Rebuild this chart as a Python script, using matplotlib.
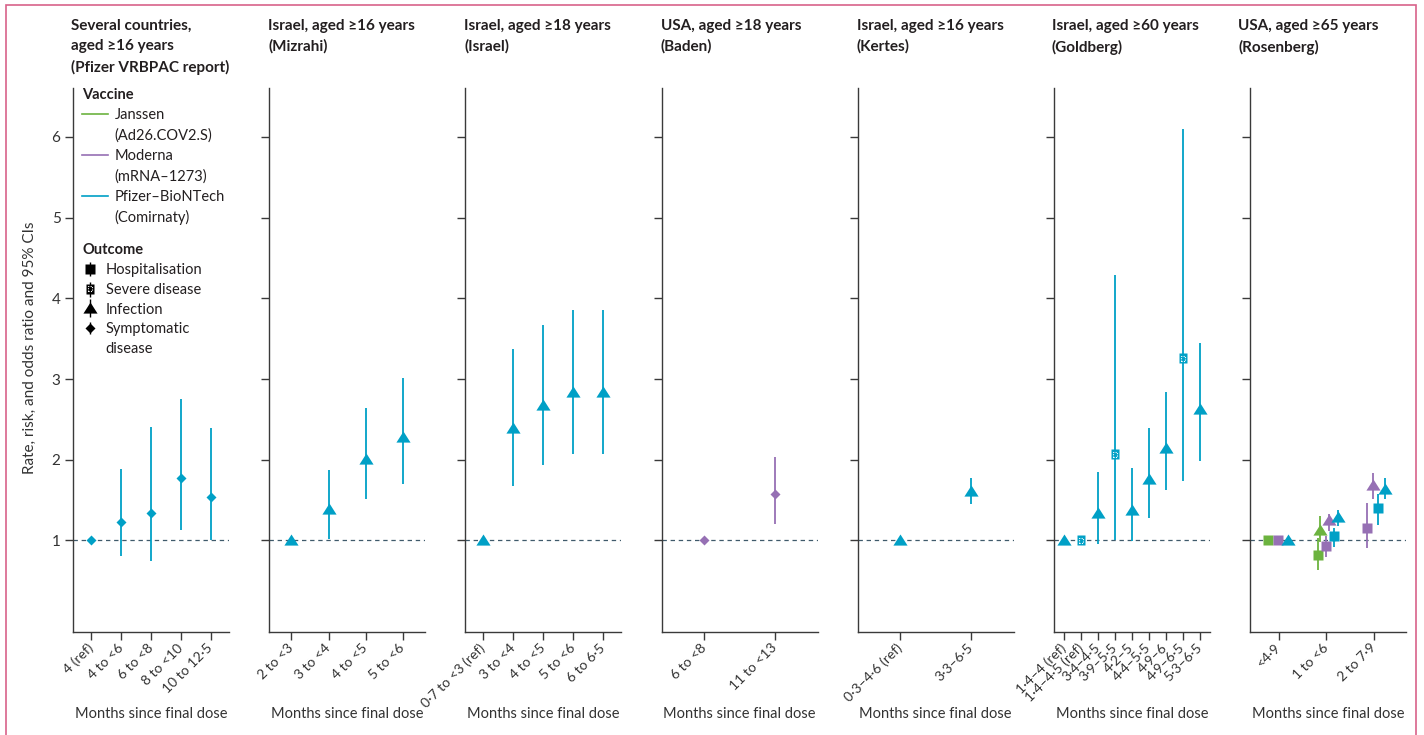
import numpy as np
import matplotlib.pyplot as plt
from matplotlib.lines import Line2D
from matplotlib.patches import Rectangle
from matplotlib.transforms import blended_transform_factory

plt.rcParams['font.family'] = ['Lato', 'DejaVu Sans']
plt.rcParams['text.color'] = '#231f20'

nan = np.nan

# vaccine colours
vaccine_colors = {'Janssen': '#6cb33f', 'Moderna': '#9670b4', 'Pfizer': '#00a0c6'}

# Pfizer VRBPAC report: symptomatic disease, Pfizer
vrbpac_labels = ['4 (ref)', '4 to <6', '6 to <8', '8 to <10', '10 to 12·5']
vrbpac_est = [1.0, 1.23, 1.34, 1.77, 1.54]
vrbpac_lo = [nan, 0.81, 0.74, 1.13, 1.0]
vrbpac_hi = [nan, 1.88, 2.41, 2.75, 2.39]

# Mizrahi: infection, Pfizer
mizrahi_labels = ['2 to <3', '3 to <4', '4 to <5', '5 to <6']
mizrahi_est = [1.0, 1.39, 2.01, 2.28]
mizrahi_lo = [nan, 1.02, 1.51, 1.70]
mizrahi_hi = [nan, 1.87, 2.64, 3.01]

# Israel: infection, Pfizer
israel_labels = ['0·7 to <3 (ref)', '3 to <4', '4 to <5', '5 to <6', '6 to 6·5']
israel_est = [1.0, 2.39, 2.68, 2.84, 2.84]
israel_lo = [nan, 1.67, 1.94, 2.07, 2.07]
israel_hi = [nan, 3.37, 3.67, 3.85, 3.86]

# Baden: symptomatic disease, Moderna
baden_labels = ['6 to <8', '11 to <13']
baden_est = [1.0, 1.57]
baden_lo = [nan, 1.21]
baden_hi = [nan, 2.04]

# Kertes: infection, Pfizer
kertes_labels = ['0·3–4·6 (ref)', '3·3–6·5']
kertes_est = [1.0, 1.61]
kertes_lo = [nan, 1.45]
kertes_hi = [nan, 1.78]

# Goldberg: infection / severe disease, Pfizer
goldberg_labels = ['1·4–4 (ref)', '1·4–4·5 (ref)', '3·4–4·5', '3·9–5·5', '4·2–5',
                   '4·4–5·5', '4·9–6', '4·9–6·5', '5·3–6·5']
goldberg_outcome = ['Infection', 'Severe disease', 'Infection', 'Severe disease', 'Infection',
                    'Infection', 'Infection', 'Severe disease', 'Infection']
goldberg_est = [1.0, 1.0, 1.34, 2.07, 1.38, 1.76, 2.15, 3.26, 2.63]
goldberg_lo = [nan, nan, 0.96, 1.0, 0.99, 1.28, 1.62, 1.74, 1.99]
goldberg_hi = [nan, nan, 1.85, 4.29, 1.90, 2.39, 2.84, 6.10, 3.45]

# Rosenberg: three vaccines, hospitalisation / infection
rosenberg_labels = ['<4·9', '1 to <6', '2 to 7·9']
rosenberg_group = [0, 0, 0, 1, 1, 1, 1, 1, 1, 2, 2, 2, 2]
rosenberg_vaccine = ['Janssen', 'Moderna', 'Pfizer', 'Janssen', 'Janssen', 'Moderna', 'Moderna',
                     'Pfizer', 'Pfizer', 'Moderna', 'Moderna', 'Pfizer', 'Pfizer']
rosenberg_outcome = ['Hospitalisation', 'Hospitalisation', 'Infection',
                     'Hospitalisation', 'Infection', 'Hospitalisation', 'Infection',
                     'Hospitalisation', 'Infection', 'Hospitalisation', 'Infection',
                     'Hospitalisation', 'Infection']
rosenberg_dodge = [-0.23, -0.02, 0.2, -0.18, -0.13, 0.0, 0.06, 0.15, 0.24, -0.15, -0.03, 0.09, 0.22]
rosenberg_est = [1.0, 1.0, 1.0, 0.82, 1.13, 0.93, 1.25, 1.05, 1.29, 1.16, 1.69, 1.40, 1.64]
rosenberg_lo = [nan, nan, nan, 0.64, 0.98, 0.79, 1.12, 0.92, 1.18, 0.91, 1.52, 1.19, 1.52]
rosenberg_hi = [nan, nan, nan, 1.03, 1.30, 1.06, 1.33, 1.15, 1.38, 1.47, 1.84, 1.58, 1.77]

titles = ['Several countries,\naged ≥16 years\n(Pfizer VRBPAC report)',
          'Israel, aged ≥16 years\n(Mizrahi)',
          'Israel, aged ≥18 years\n(Israel)',
          'USA, aged ≥18 years\n(Baden)',
          'Israel, aged ≥16 years\n(Kertes)',
          'Israel, aged ≥60 years\n(Goldberg)',
          'USA, aged ≥65 years\n(Rosenberg)']


def simple(labels, est, lo, hi, vaccine, outcome):
    n = len(labels)
    return dict(labels=labels, x=list(range(n)), dodge=[0] * n, est=est, lo=lo, hi=hi,
                vaccine=[vaccine] * n, outcome=[outcome] * n)


panels = [
    simple(vrbpac_labels, vrbpac_est, vrbpac_lo, vrbpac_hi, 'Pfizer', 'Symptomatic disease'),
    simple(mizrahi_labels, mizrahi_est, mizrahi_lo, mizrahi_hi, 'Pfizer', 'Infection'),
    simple(israel_labels, israel_est, israel_lo, israel_hi, 'Pfizer', 'Infection'),
    simple(baden_labels, baden_est, baden_lo, baden_hi, 'Moderna', 'Symptomatic disease'),
    simple(kertes_labels, kertes_est, kertes_lo, kertes_hi, 'Pfizer', 'Infection'),
    dict(labels=goldberg_labels, x=list(range(9)), dodge=[0] * 9, est=goldberg_est,
         lo=goldberg_lo, hi=goldberg_hi, vaccine=['Pfizer'] * 9, outcome=goldberg_outcome),
    dict(labels=rosenberg_labels, x=rosenberg_group, dodge=rosenberg_dodge, est=rosenberg_est,
         lo=rosenberg_lo, hi=rosenberg_hi, vaccine=rosenberg_vaccine, outcome=rosenberg_outcome),
]

# marker shapes
tall_rect = [(-0.75, -1), (0.75, -1), (0.75, 1), (-0.75, 1), (-0.75, -1)]
flat_tri = [(-1, -0.72), (1, -0.72), (0, 0.85), (-1, -0.72)]
markers = {'Hospitalisation': ('s', 7.6), 'Severe disease': (tall_rect, 7.8),
           'Infection': (flat_tri, 10.2), 'Symptomatic disease': ('D', 5.4)}

W, H = 1424, 735
fig = plt.figure(figsize=(W / 100, H / 100), dpi=100)

# pink frame around the figure
fig.patches.append(Rectangle((6 / W, -0.05), 1410 / W, 1.05 - 5 / H, transform=fig.transFigure,
                             fill=False, edgecolor='#d8628a', lw=1.2))

ax_left = [73 + 196.17 * i for i in range(7)]
ax_w = 156
title_shift = [-2, -1, -1, -1, -1, -2, -12]
axis_col = '#3a3a3a'

axes = []
for i, p in enumerate(panels):
    ax = fig.add_axes([ax_left[i] / W, 103 / H, ax_w / W, 544 / H])
    axes.append(ax)
    n = len(p['labels'])
    ax.axhline(1, color='#3f5a6b', lw=0.9, ls=(0, (3.5, 3)), zorder=1)
    for g, d, e, lo, hi, v, o in zip(p['x'], p['dodge'], p['est'], p['lo'], p['hi'],
                                     p['vaccine'], p['outcome']):
        c = vaccine_colors[v]
        xx = g + d
        if not np.isnan(lo):
            ax.vlines(xx, lo, hi, color=c, lw=1.3, zorder=2)
        m, ms = markers[o]
        ax.plot([xx], [e], ls='none', marker=m, ms=ms, color=c, mec='none', zorder=3)
        if o == 'Severe disease':
            ax.scatter([xx], [e], marker=tall_rect, s=14, facecolors='none', edgecolors='white',
                       linewidths=0.8, linestyles=(0, (1, 1.2)), zorder=4)

    pad_r = 0.67 if i == 6 else 0.6
    ax.set_xlim(-0.6, n - 1 + pad_r)
    ax.set_ylim(-0.134, 6.607)
    ax.set_xticks(range(n))
    ax.set_xticklabels(p['labels'], rotation=45, ha='right', va='center', rotation_mode='anchor')
    ax.set_yticks(range(1, 7))
    if i > 0:
        ax.set_yticklabels([])
    for s in ['top', 'right']:
        ax.spines[s].set_visible(False)
    for s in ['left', 'bottom']:
        ax.spines[s].set_color(axis_col)
        ax.spines[s].set_linewidth(1.0)
    ax.tick_params(length=6, width=1.0, color=axis_col, labelcolor='#333333')
    ax.tick_params(axis='x', labelsize=10, pad=4)
    ax.tick_params(axis='y', labelsize=11, pad=3)
    ax.set_xlabel('Months since final dose', fontsize=10.5, color='#333333')
    ax.xaxis.set_label_coords(0.5, -0.137)
    tr = blended_transform_factory(ax.transAxes, fig.transFigure)
    ax.text(title_shift[i] / ax_w, 1 - 19 / H, titles[i], transform=tr, ha='left', va='top',
            fontsize=11, fontweight='bold', linespacing=1.55)

fig.text(30 / W, 1 - 348 / H, 'Rate, risk, and odds ratio and 95% CIs', rotation=90,
         ha='center', va='center', fontsize=11, color='#333333')

# legends in first panel
ax0 = axes[0]
blank = Line2D([], [], ls='none')
vac_handles = [Line2D([], [], color=vaccine_colors['Janssen'], lw=1.2), blank,
               Line2D([], [], color=vaccine_colors['Moderna'], lw=1.2), blank,
               Line2D([], [], color=vaccine_colors['Pfizer'], lw=1.2), blank]
vac_labels = ['Janssen', '(Ad26.COV2.S)', 'Moderna', '(mRNA–1273)', 'Pfizer–BioNTech', '(Comirnaty)']
leg1 = ax0.legend(vac_handles, vac_labels, title='Vaccine', loc='upper left',
                  bbox_to_anchor=(0.06, 1.0), frameon=False, alignment='left',
                  title_fontproperties={'weight': 'bold', 'size': 10.5}, fontsize=10.5,
                  handlelength=1.75, handletextpad=0.45, borderpad=0, borderaxespad=0,
                  labelspacing=0.43)
ax0.add_artist(leg1)


def outcome_handle(o):
    m, ms = markers[o]
    tick = Line2D([], [], ls='none', marker='|', ms=ms + 3, mew=1.0, color='black')
    mark = Line2D([], [], ls='none', marker=m, ms=ms, color='black', mec='none')
    if o == 'Severe disease':
        inner = ax0.scatter([], [], marker=tall_rect, s=14, facecolors='none', edgecolors='white',
                            linewidths=0.8, linestyles=(0, (1, 1.2)))
        return (tick, mark, inner)
    return (tick, mark)


out_names = ['Hospitalisation', 'Severe disease', 'Infection', 'Symptomatic disease']
out_handles = [outcome_handle(o) for o in out_names] + [blank]
out_labels = ['Hospitalisation', 'Severe disease', 'Infection', 'Symptomatic', 'disease']
leg2 = ax0.legend(out_handles, out_labels, title='Outcome', loc='upper left',
                  bbox_to_anchor=(0.06, 0.715), frameon=False, alignment='left',
                  title_fontproperties={'weight': 'bold', 'size': 10.5}, fontsize=10.5,
                  handlelength=1.0, handletextpad=0.6, borderpad=0, borderaxespad=0,
                  labelspacing=0.4, scatteryoffsets=[0.5])

fig.savefig('out.png', dpi=100)
